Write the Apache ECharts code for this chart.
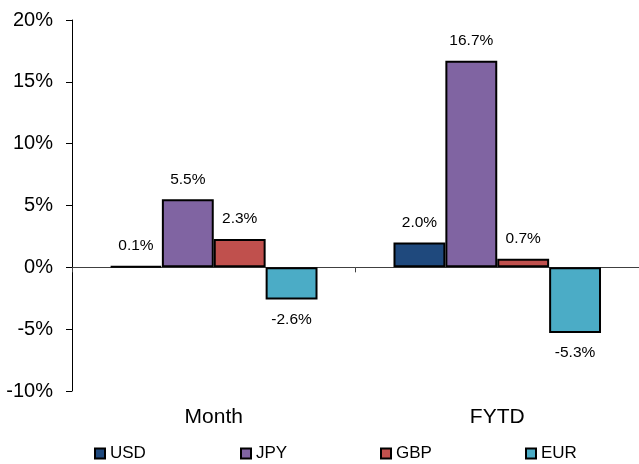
<!DOCTYPE html>
<html>
<head>
<meta charset="utf-8">
<script src="https://cdn.jsdelivr.net/npm/echarts@6/dist/echarts.min.js"></script>
<style>
  html, body { margin: 0; padding: 0; background: #fff; }
  #chart { width: 639px; height: 464px; }
</style>
</head>
<body>
<div id="chart"></div>
<script>
// data
const categories = ['Month', 'FYTD'];
const usd = [0.1, 2.0];
const jpy = [5.5, 16.7];
const gbp = [2.3, 0.7];
const eur = [-2.6, -5.3];

const FONT = 'Arial, "Liberation Sans", sans-serif';

// label sits above positive bars and below negative ones
const barSeries = (name, values, color) => ({
  name: name,
  type: 'bar',
  xAxisIndex: 0,
  data: values.map(v => ({
    value: v,
    label: { position: v < 0 ? 'bottom' : 'top' }
  })),
  barGap: '0%',
  barCategoryGap: '26.8%',
  itemStyle: { color: color, borderColor: '#000', borderWidth: 2 },
  label: {
    show: true,
    fontFamily: FONT,
    fontSize: 15.5,
    color: '#000',
    distance: 12,
    formatter: p => p.value.toFixed(1) + '%'
  }
});

const legendAt = (name, left) => ({
  data: [name],
  top: 445,
  left: left,
  padding: 0,
  itemWidth: 10,
  itemHeight: 10,
  icon: 'rect',
  textStyle: { fontFamily: FONT, fontSize: 17, color: '#000' }
});

const chart = echarts.init(document.getElementById('chart'));
chart.setOption({
  animation: false,
  grid: { left: 72, right: 0, top: 20, bottom: 73 },
  legend: [
    legendAt('USD', 94),
    legendAt('JPY', 240),
    legendAt('GBP', 380),
    legendAt('EUR', 525)
  ],
  xAxis: [
    {
      type: 'category',
      data: categories,
      position: 'bottom',
      axisLine: { onZero: true, lineStyle: { color: '#404040', width: 1 } },
      axisTick: { show: true, length: 5, inside: false, lineStyle: { color: '#404040' } },
      axisLabel: { show: false },
      splitLine: { show: false }
    },
    {
      type: 'category',
      data: categories,
      position: 'bottom',
      axisLine: { show: false, onZero: false },
      axisTick: { show: false },
      axisLabel: { fontFamily: FONT, fontSize: 21, color: '#000', margin: 16 },
      splitLine: { show: false }
    }
  ],
  yAxis: {
    type: 'value',
    min: -10,
    max: 20,
    interval: 5,
    axisLine: { show: true, lineStyle: { color: '#000', width: 1 } },
    axisTick: { show: true, length: 6, lineStyle: { color: '#000' } },
    axisLabel: {
      fontFamily: FONT,
      fontSize: 20,
      color: '#000',
      margin: 19,
      formatter: '{value}%'
    },
    splitLine: { show: false }
  },
  series: [
    barSeries('USD', usd, '#1F497D'),
    barSeries('JPY', jpy, '#8064A2'),
    barSeries('GBP', gbp, '#C0504D'),
    barSeries('EUR', eur, '#4BACC6')
  ]
});
</script>
</body>
</html>
